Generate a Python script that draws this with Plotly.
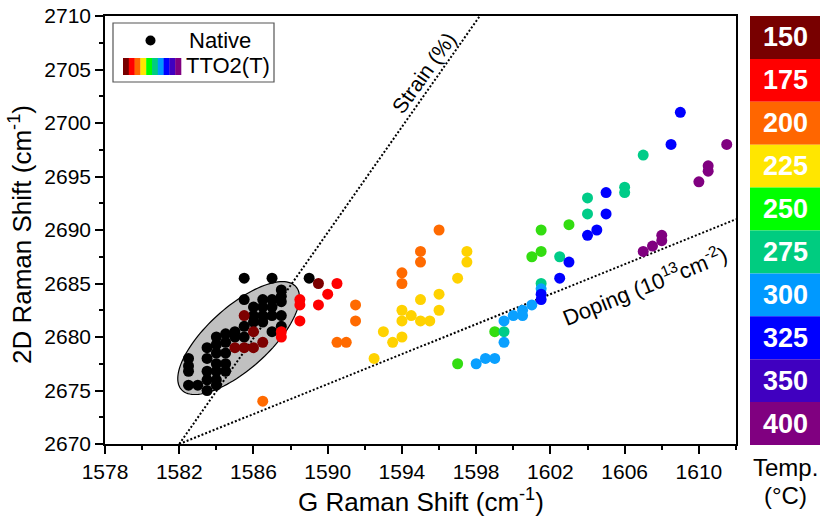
import numpy as np
import plotly.graph_objects as go

# ---------------- data ----------------
temps = [150, 175, 200, 225, 250, 275, 300, 325, 350, 400]
bar_colors = ['#780000', '#ff0000', '#ff6600', '#ffe600', '#00ff00',
              '#00cc80', '#0099ff', '#0000ff', '#4000c0', '#800080']
marker_colors = ['#7d0000', '#ff0000', '#ff6a00', '#ffd200', '#33dd11',
                 '#00cc88', '#0aa0ff', '#0000ff', '#4000c0', '#800080']

native_x = [1582.5, 1582.5, 1582.5, 1582.5, 1583.0,
            1583.5, 1583.5, 1583.5, 1583.5, 1583.5,
            1584.0, 1584.0, 1584.0, 1584.0, 1584.0, 1584.0, 1584.0,
            1584.5, 1584.5, 1584.5, 1584.5, 1584.5,
            1585.0, 1585.0,
            1585.5, 1585.5, 1585.5, 1585.5,
            1586.0, 1586.0, 1586.0,
            1586.5, 1586.5, 1586.5, 1586.5,
            1587.0, 1587.0, 1587.0, 1587.0, 1587.0,
            1587.5, 1587.5, 1587.5, 1587.5, 1587.5,
            1589.0]
native_y = [2678.0, 2677.3, 2676.8, 2675.5, 2675.5,
            2679.0, 2678.0, 2676.8, 2676.0, 2675.0,
            2680.0, 2679.3, 2678.5, 2677.5, 2676.8, 2676.0, 2675.5,
            2680.3, 2679.5, 2678.5, 2677.5, 2676.8,
            2680.0, 2680.5,
            2685.5, 2683.5, 2681.0, 2680.0,
            2682.8, 2682.0, 2681.4,
            2683.5, 2682.8, 2682.0, 2681.4,
            2685.5, 2683.5, 2682.8, 2682.0, 2680.5,
            2684.4, 2683.8, 2683.3, 2682.0, 2681.0,
            2685.5]

t150_x = [1585.5, 1586.0, 1585.0, 1585.5, 1586.0, 1586.5, 1589.5]
t150_y = [2682.0, 2680.5, 2679.0, 2679.0, 2679.0, 2679.5, 2685.0]
t175_x = [1587.5, 1587.5, 1588.5, 1588.5, 1588.5, 1589.5, 1590.0, 1590.5]
t175_y = [2680.5, 2680.0, 2683.5, 2683.0, 2681.5, 2683.0, 2684.0, 2685.0]
t200_x = [1586.5, 1590.5, 1591.0, 1591.5, 1591.5, 1594.0, 1594.0, 1595.0, 1595.0, 1596.0]
t200_y = [2674.0, 2679.5, 2679.5, 2683.0, 2681.5, 2686.0, 2685.0, 2688.0, 2687.0, 2690.0]
t225_x = [1592.5, 1593.0, 1593.5, 1594.0, 1594.0, 1594.0, 1594.5, 1595.0, 1595.0,
          1595.5, 1596.0, 1596.0, 1597.0, 1597.5, 1597.5]
t225_y = [2678.0, 2680.5, 2679.5, 2680.0, 2681.5, 2682.5, 2682.0, 2683.5, 2681.5,
          2681.5, 2684.0, 2682.5, 2685.5, 2688.0, 2687.0]
t250_x = [1597.0, 1599.0, 1601.0, 1601.5, 1601.5, 1603.0]
t250_y = [2677.5, 2680.5, 2687.5, 2688.0, 2690.0, 2690.5]
t275_x = [1599.5, 1601.5, 1602.5, 1604.0, 1604.0, 1606.0, 1606.0, 1607.0]
t275_y = [2680.5, 2685.0, 2687.5, 2691.5, 2693.0, 2694.0, 2693.5, 2697.0]
t300_x = [1598.0, 1598.5, 1599.0, 1599.5, 1599.5, 1600.0, 1600.5, 1600.5, 1601.0, 1601.5]
t300_y = [2677.5, 2678.0, 2678.0, 2679.5, 2681.5, 2682.0, 2682.5, 2682.0, 2683.0, 2684.5]
t325_x = [1601.5, 1601.5, 1602.5, 1603.0, 1604.0, 1604.5, 1605.0, 1605.0, 1608.5, 1609.0]
t325_y = [2684.0, 2683.5, 2685.5, 2687.0, 2689.5, 2690.0, 2691.5, 2693.5, 2698.0, 2701.0]
t350_x = []
t350_y = []
t400_x = [1607.0, 1607.5, 1608.0, 1608.0, 1610.0, 1610.5, 1610.5, 1611.5]
t400_y = [2688.0, 2688.5, 2689.0, 2689.5, 2694.5, 2695.5, 2696.0, 2698.0]

series_x = [t150_x, t175_x, t200_x, t225_x, t250_x, t275_x, t300_x, t325_x, t350_x, t400_x]
series_y = [t150_y, t175_y, t200_y, t225_y, t250_y, t275_y, t300_y, t325_y, t350_y, t400_y]

x_ticks = list(range(1578, 1611, 4))
y_ticks = list(range(2670, 2711, 5))

# reference lines (origin and slopes)
origin_x, origin_y = 1582.0, 2670.0
strain_slope = 2.47
doping_slope = 0.70

# ---------------- geometry ----------------
W, H = 820, 517
L, R, T, B = 105, 736, 16, 444
XR = [1578, 1612]
YR = [2670, 2710]


def px(p):
    return (p - L) / (R - L)


def py(p):
    return (B - p) / (B - T)


fig = go.Figure()

# lines
xs_end = origin_x + (YR[1] - origin_y) / strain_slope
fig.add_trace(go.Scatter(x=[origin_x, xs_end], y=[origin_y, YR[1]], mode='lines',
                         line=dict(color='black', width=2, dash='2px,2px'),
                         hoverinfo='skip', showlegend=False))
fig.add_trace(go.Scatter(x=[origin_x, XR[1]], y=[origin_y, origin_y + doping_slope * (XR[1] - origin_x)],
                         mode='lines', line=dict(color='black', width=2, dash='2px,2px'),
                         hoverinfo='skip', showlegend=False))

# native
fig.add_trace(go.Scatter(x=native_x, y=native_y, mode='markers',
                         marker=dict(size=11, color='black', line=dict(width=0)),
                         name='Native', showlegend=False))
for t, c, xs, ys in zip(temps, marker_colors, series_x, series_y):
    if xs:
        fig.add_trace(go.Scatter(x=xs, y=ys, mode='markers',
                                 marker=dict(size=11, color=c, line=dict(width=0)),
                                 name=f'{t}', showlegend=False))

shapes = []
# ellipse (drawn in pixel-space then converted to data units)
ecx, ecy = 1585.2, 2679.9
ea, eb, eang = 77.0, 31.0, np.deg2rad(42.0)
sx = (XR[1] - XR[0]) / (R - L)
sy = (YR[1] - YR[0]) / (B - T)
th = np.linspace(0, 2 * np.pi, 120)
u = ea * np.cos(th)
v = eb * np.sin(th)
dxp = u * np.cos(eang) - v * np.sin(eang)
dyp = u * np.sin(eang) + v * np.cos(eang)
ex = ecx + dxp * sx
ey = ecy + dyp * sy
path = 'M ' + ' L '.join(f'{a:.4f},{b:.4f}' for a, b in zip(ex, ey)) + ' Z'
shapes.append(dict(type='path', path=path, xref='x', yref='y', layer='below',
                   fillcolor='#c0c0c0', line=dict(color='black', width=1.2)))

# legend box
shapes.append(dict(type='rect', xref='paper', yref='paper', x0=px(113), x1=px(274),
                   y0=py(82), y1=py(23), line=dict(color='#555555', width=1.2),
                   fillcolor='white'))
shapes.append(dict(type='circle', xref='paper', yref='paper', x0=px(145.5), x1=px(155.5),
                   y0=py(45.5), y1=py(35.5), fillcolor='black', line=dict(width=0)))
rb0, rb1 = 123.0, 181.0
wseg = (rb1 - rb0) / len(bar_colors)
for i, c in enumerate(bar_colors):
    shapes.append(dict(type='rect', xref='paper', yref='paper',
                       x0=px(rb0 + i * wseg), x1=px(rb0 + (i + 1) * wseg + 0.3),
                       y0=py(75), y1=py(58), fillcolor=c, line=dict(width=0)))

# colour bar
cb0, cb1 = 750, 820
ctop, cbot = 16, 445
hseg = (cbot - ctop) / len(temps)
annotations = []
for i, (t, c) in enumerate(zip(temps, bar_colors)):
    y0 = ctop + i * hseg
    shapes.append(dict(type='rect', xref='paper', yref='paper', x0=px(cb0), x1=px(cb1 + 2),
                       y0=py(y0 + hseg), y1=py(y0), fillcolor=c, line=dict(width=0)))
    annotations.append(dict(x=px(785), y=py(y0 + hseg / 2), xref='paper', yref='paper',
                            text=f'<b>{t}</b>', showarrow=False,
                            font=dict(size=27, color='white'), xanchor='center', yanchor='middle'))

font_fam = 'Arial, Liberation Sans, sans-serif'
annotations += [
    dict(x=px(187), y=py(40), xref='paper', yref='paper', text='Native', showarrow=False,
         xanchor='left', yanchor='middle', font=dict(size=22, color='black')),
    dict(x=px(184), y=py(66), xref='paper', yref='paper', text='TTO2(T)', showarrow=False,
         xanchor='left', yanchor='middle', font=dict(size=22, color='black')),
    dict(x=px(785), y=py(467), xref='paper', yref='paper', text='Temp.', showarrow=False,
         xanchor='center', yanchor='middle', font=dict(size=24, color='black')),
    dict(x=px(785), y=py(495), xref='paper', yref='paper', text='(°C)', showarrow=False,
         xanchor='center', yanchor='middle', font=dict(size=24, color='black')),
    dict(x=px(420.5), y=py(500), xref='paper', yref='paper',
         text='G Raman Shift (cm<sup>-1</sup>)', showarrow=False,
         xanchor='center', yanchor='middle', font=dict(size=26, color='black')),
    dict(x=px(20), y=py(235), xref='paper', yref='paper',
         text='2D Raman Shift (cm<sup>-1</sup>)', showarrow=False, textangle=-90,
         xanchor='center', yanchor='middle', font=dict(size=26, color='black')),
    dict(x=px(423), y=py(73), xref='paper', yref='paper', text='Strain (%)',
         showarrow=False, textangle=-54.6, xanchor='center', yanchor='middle',
         font=dict(size=21, color='black')),
    dict(x=px(644), y=py(285), xref='paper', yref='paper',
         text='Doping (10<sup>13</sup>cm<sup>-2</sup>)', showarrow=False, textangle=-22.0,
         xanchor='center', yanchor='middle', font=dict(size=22, color='black')),
]

axis_common = dict(showgrid=False, zeroline=False, showline=True, linecolor='black',
                   linewidth=1.5, mirror=True, ticks='outside', ticklen=8, tickwidth=1.5,
                   tickcolor='black', tickfont=dict(size=21, color='black'),
                   automargin=False)

fig.update_layout(
    width=W, height=H,
    margin=dict(l=L, r=W - R, t=T, b=H - B, pad=0, autoexpand=False),
    paper_bgcolor='white', plot_bgcolor='white',
    font=dict(family=font_fam, color='black'),
    showlegend=False,
    shapes=shapes, annotations=annotations,
    xaxis=dict(range=XR, tickvals=x_ticks, ticktext=[str(v) for v in x_ticks],
               minor=dict(dtick=2, tick0=1578, ticklen=4, tickwidth=1.5, tickcolor='black',
                          ticks='outside'),
               **axis_common),
    yaxis=dict(range=YR, tickvals=y_ticks, ticktext=[str(v) for v in y_ticks],
               minor=dict(dtick=2.5, tick0=2670, ticklen=4, tickwidth=1.5, tickcolor='black',
                          ticks='outside'),
               **axis_common),
)

fig.write_html('out.html')
